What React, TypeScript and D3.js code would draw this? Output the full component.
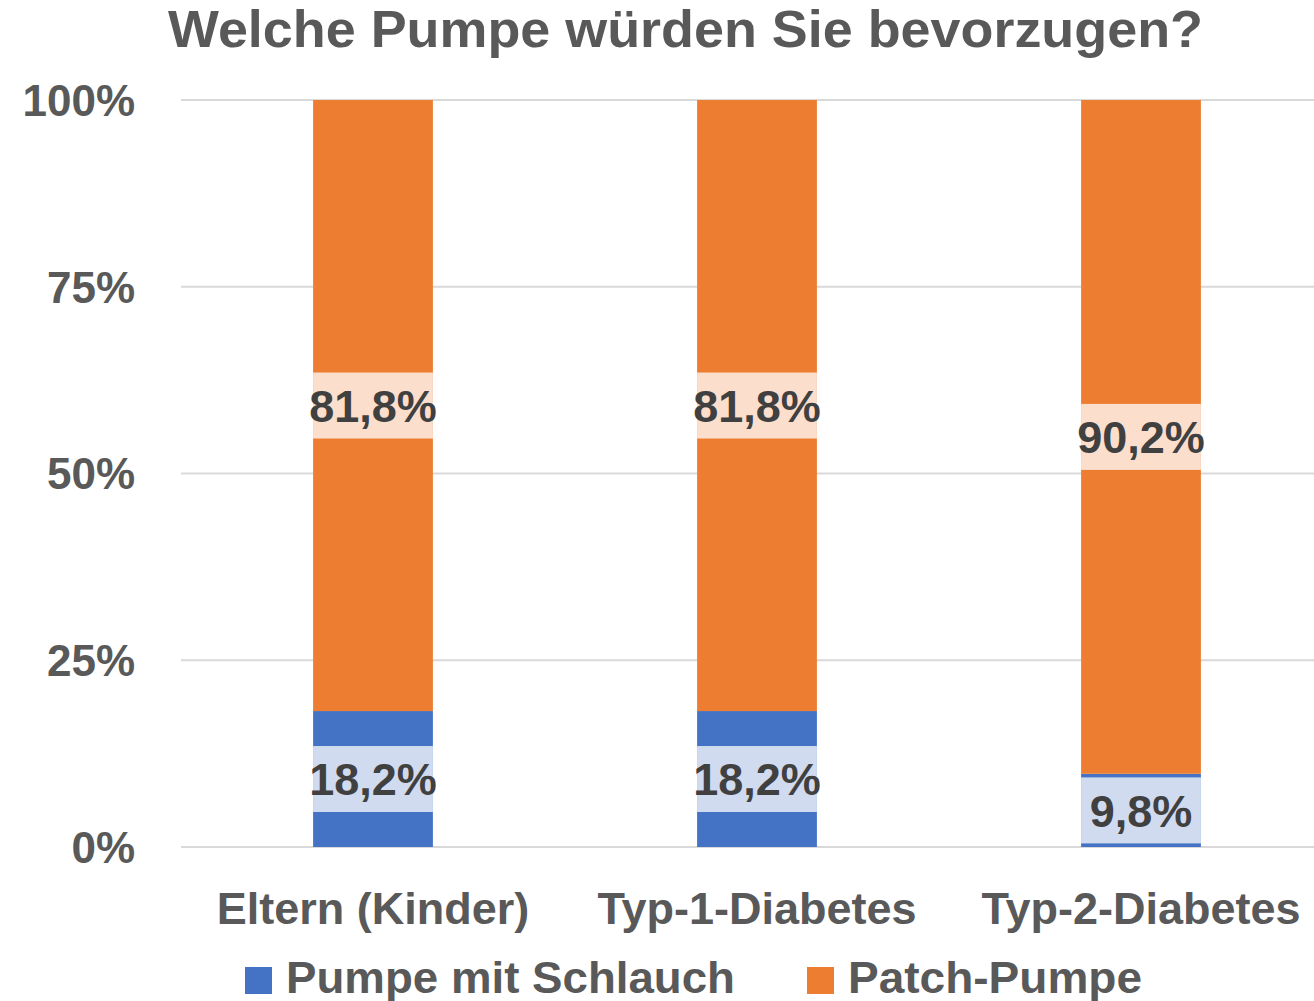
import React from 'react';
import * as d3 from 'd3';

const categories = ['Eltern (Kinder)', 'Typ-1-Diabetes', 'Typ-2-Diabetes'];
const seriesNames = ['Pumpe mit Schlauch', 'Patch-Pumpe'];
const schlauch = [18.2, 18.2, 9.8];
const patch = [81.8, 81.8, 90.2];
const yTicks = [0, 25, 50, 75, 100];
const COLORS = ['#4472C4', '#ED7D31'];
const LABEL_BG = ['rgba(255,255,255,0.75)', 'rgba(255,255,255,0.75)'];

const W = 1314;
const H = 1001;

const fmt = (v: number) => v.toFixed(1).replace('.', ',') + '%';

export default function App() {
  const x = d3.scaleBand().domain(categories).range([181, 1333]).paddingInner(0.688).paddingOuter(0.344);
  const y = d3.scaleLinear().domain([0, 100]).range([847, 100]);

  const table = categories.map((c, i) => ({ cat: c, s0: schlauch[i], s1: patch[i] }));
  const stacked = d3.stack<any>().keys(['s0', 's1'])(table);

  const bw = x.bandwidth();
  const boxH = 66;

  return (
    <svg width={W} height={H} style={{ position: 'absolute', left: 0, top: 0, background: '#fff' }}
      fontFamily="'Liberation Sans', Arial, sans-serif">
      {/* title */}
      <text x={168} y={47} fontSize={52} fontWeight="bold" fill="#595959"
        textLength={1035} lengthAdjust="spacingAndGlyphs">Welche Pumpe würden Sie bevorzugen?</text>

      {/* grid + y axis */}
      {yTicks.map(t => (
        <g key={t}>
          <line x1={181} x2={1314} y1={y(t)} y2={y(t)} stroke="#D9D9D9" strokeWidth={2} />
          <text x={135} y={y(t)} dy="0.36em" textAnchor="end" fontSize={44} fontWeight="bold" fill="#595959">{t}%</text>
        </g>
      ))}

      {/* bars */}
      {stacked.map((layer, si) => (
        <g key={layer.key}>
          {layer.map((d, i) => (
            <rect key={i} x={x(categories[i])} width={bw} y={y(d[1])} height={y(d[0]) - y(d[1])} fill={COLORS[si]} />
          ))}
        </g>
      ))}

      {/* data labels */}
      {stacked.map((layer, si) => (
        <g key={'l' + layer.key}>
          {layer.map((d, i) => {
            const cy = y((d[0] + d[1]) / 2);
            const cx = (x(categories[i]) as number) + bw / 2;
            return (
              <g key={i}>
                <rect x={x(categories[i])} width={bw} y={cy - boxH / 2} height={boxH} fill={LABEL_BG[si]} />
                <text x={cx} y={cy} dy="0.36em" textAnchor="middle" fontSize={45} fontWeight="bold" fill="#404040">
                  {fmt(d[1] - d[0])}
                </text>
              </g>
            );
          })}
        </g>
      ))}

      {/* category labels */}
      {categories.map(c => (
        <text key={c} x={(x(c) as number) + bw / 2} y={908} dy="0.36em" textAnchor="middle" fontSize={45} fontWeight="bold" fill="#595959">{c}</text>
      ))}

      {/* legend */}
      <rect x={245} y={967} width={27} height={27} fill={COLORS[0]} />
      <text x={286} y={993} fontSize={44} fontWeight="bold" fill="#595959" textLength={449} lengthAdjust="spacingAndGlyphs">{seriesNames[0]}</text>
      <rect x={807} y={967} width={27} height={27} fill={COLORS[1]} />
      <text x={848} y={993} fontSize={44} fontWeight="bold" fill="#595959" textLength={294} lengthAdjust="spacingAndGlyphs">{seriesNames[1]}</text>
    </svg>
  );
}
